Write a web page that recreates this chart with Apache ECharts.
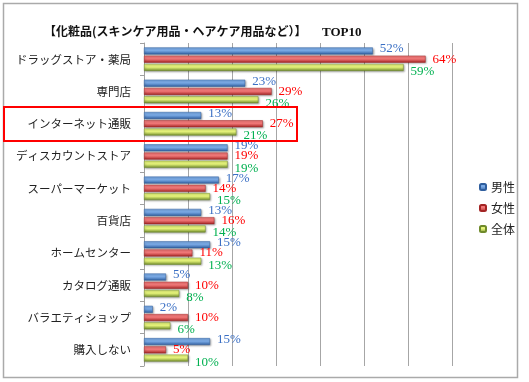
<!DOCTYPE html>
<html><head><meta charset="utf-8">
<script src="https://cdn.jsdelivr.net/npm/echarts@6/dist/echarts.min.js"></script>
<style>html,body{margin:0;padding:0;background:#fff}#c{width:529px;height:382px}</style>
</head><body><div id="c"></div>
<script>
var categories = ['ドラッグストア・薬局','専門店','インターネット通販','ディスカウントストア','スーパーマーケット','百貨店','ホームセンター','カタログ通販','バラエティショップ','購入しない'];
var male   = [52,23,13,19,17,13,15,5,2,15];
var female = [64,29,27,19,14,16,11,10,10,5];
var total  = [59,26,21,19,15,14,13,8,6,10];
var seriesNames = ['男性','女性','全体'];
var titleText = '【化粧品(スキンケア用品・ヘアケア用品など）】';
var titleTop = 'TOP10';

var chart = echarts.init(document.getElementById('c'));
function grad(a,b){return new echarts.graphic.LinearGradient(0,0,0,1,[{offset:0,color:a},{offset:0.45,color:a},{offset:1,color:b}]);}
var serif = '"Liberation Serif","DejaVu Serif",serif';
function mk(name,data,c1,c2,lc,off,dist){
  return {name:name,type:'bar',data:data,barWidth:7,barGap:'18%',
    itemStyle:{color:grad(c1,c2),borderColor:c2,borderWidth:0.5,shadowColor:'rgba(0,0,0,0.35)',shadowBlur:2,shadowOffsetX:1,shadowOffsetY:1},
    label:{show:true,position:'right',formatter:'{c}%',color:lc,fontFamily:serif,fontSize:13,offset:off,distance:dist}};
}
chart.setOption({
  animation:false,
  textStyle:{fontFamily:'"Noto Sans CJK JP",sans-serif'},
  grid:{left:144,right:77,top:43,bottom:16,containLabel:false},
  xAxis:{type:'value',min:0,max:70,interval:10,axisLabel:{show:false},axisLine:{show:false},axisTick:{show:false},
    splitLine:{show:true,lineStyle:{color:'#a6a6a6',width:1}}},
  yAxis:{type:'category',data:categories,inverse:true,
    axisLine:{show:true,lineStyle:{color:'#a0a0a0'}},
    axisTick:{show:true,length:4,lineStyle:{color:'#a0a0a0'}},
    axisLabel:{color:'#222',fontSize:11.5,margin:13,fontFamily:'"Noto Sans CJK JP",sans-serif'}},
  legend:{orient:'vertical',left:474,top:176,itemWidth:6,itemHeight:6,itemGap:9,
    textStyle:{fontSize:12,color:'#222',fontFamily:'"Noto Sans CJK JP",sans-serif'},data:seriesNames},
  series:[
    mk(seriesNames[0],male,'#7aaae6','#2f5e9e','#3a6fc4',[0,-2],7),
    mk(seriesNames[1],female,'#f27878','#a32424','#ff0000',[0,0],7),
    mk(seriesNames[2],total,'#e6f47a','#6f8a2a','#00b050',[4,4],3)
  ],
  graphic:[
    {type:'rect',shape:{x:3.5,y:3.5,width:514,height:374},style:{fill:null,stroke:'#aaaaaa',lineWidth:1.5},silent:true},
    {type:'rect',shape:{x:4,y:107,width:293,height:34},style:{fill:null,stroke:'#ff0000',lineWidth:2},z:100,silent:true},
    {type:'text',left:44,top:25,style:{text:titleText,font:'bold 12px "Noto Sans CJK JP",sans-serif',fill:'#111'}},
    {type:'text',left:322,top:26,style:{text:titleTop,font:'bold 13px "Liberation Serif","DejaVu Serif",serif',fill:'#111'}}
  ]
});
</script></body></html>
